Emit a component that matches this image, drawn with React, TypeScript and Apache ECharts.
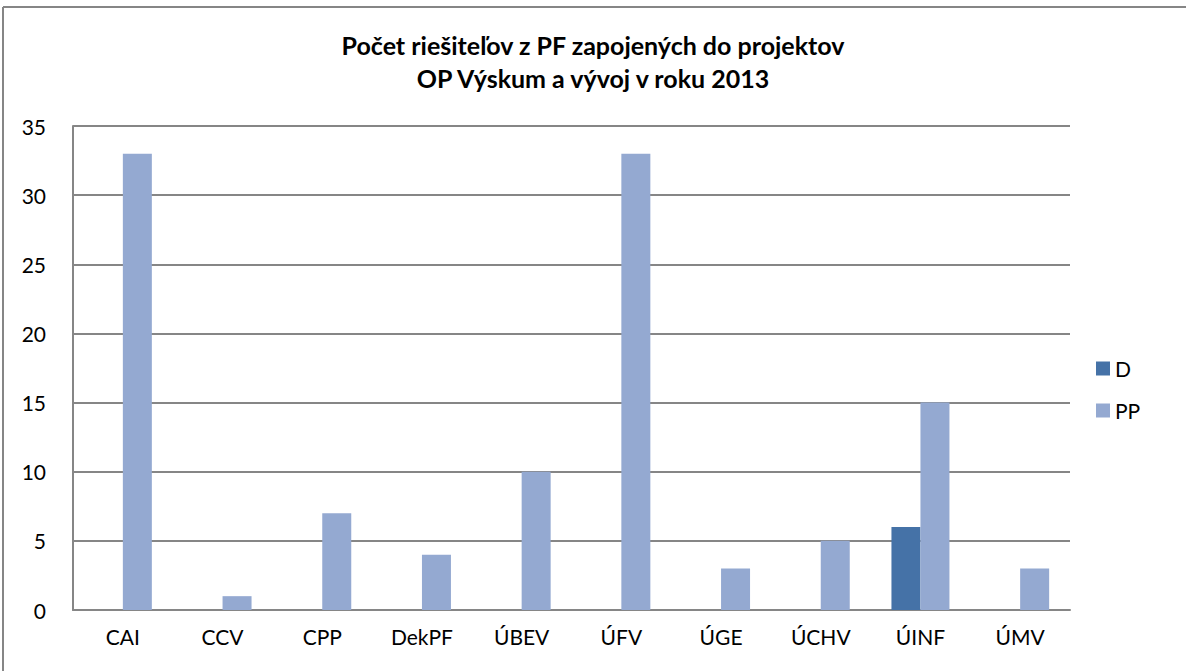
import React, { useEffect, useRef } from "react";
import * as echarts from "echarts";

const categories = ["CAI", "CCV", "CPP", "DekPF", "ÚBEV", "ÚFV", "ÚGE", "ÚCHV", "ÚINF", "ÚMV"];
const seriesD = [0, 0, 0, 0, 0, 0, 0, 0, 6, 0];
const seriesPP = [33, 1, 7, 4, 10, 33, 3, 5, 15, 3];
const yTicks = { min: 0, max: 35, interval: 5 };
const titleText = "Počet riešiteľov z PF zapojených do projektov\nOP Výskum a vývoj v roku 2013";

const FONT = "Lato, 'Open Sans', sans-serif";

export default function App() {
  const ref = useRef<HTMLDivElement>(null);
  useEffect(() => {
    document.body.style.margin = "0";
    const chart = echarts.init(ref.current!, null, { renderer: "svg" });
    chart.setOption({
      animation: false,
      backgroundColor: "#ffffff",
      title: {
        text: titleText,
        left: "center",
        top: 23,
        textStyle: { fontFamily: FONT, fontWeight: "bold", fontSize: 25, color: "#000", lineHeight: 33 },
      },
      legend: {
        orient: "vertical",
        left: 1091,
        top: 353,
        itemWidth: 14,
        itemHeight: 14,
        itemGap: 21,
        icon: "rect",
        textStyle: { fontFamily: FONT, fontSize: 21, color: "#000", padding: [0, 0, 0, 0] },
        data: ["D", "PP"],
      },
      grid: { left: 73, right: 116, top: 126, bottom: 61, containLabel: false },
      xAxis: {
        type: "category",
        data: categories,
        axisLine: { show: true, lineStyle: { color: "#868686", width: 2 } },
        axisTick: { show: false },
        axisLabel: { fontFamily: FONT, fontSize: 21, color: "#000", margin: 16 },
      },
      yAxis: {
        type: "value",
        min: yTicks.min,
        max: yTicks.max,
        interval: yTicks.interval,
        axisLine: { show: true, lineStyle: { color: "#868686", width: 2 } },
        axisTick: { show: false },
        axisLabel: { fontFamily: FONT, fontSize: 21, color: "#000", margin: 27 },
        splitLine: { show: true, lineStyle: { color: "#868686", width: 2 } },
      },
      series: [
        {
          name: "D",
          type: "bar",
          data: seriesD,
          barWidth: 29,
          barGap: "0%",
          itemStyle: { color: "#4572A7" },
        },
        {
          name: "PP",
          type: "bar",
          data: seriesPP,
          barWidth: 29,
          barGap: "0%",
          itemStyle: { color: "#94A9D1" },
        },
      ],
      graphic: [
        { type: "line", shape: { x1: 3, y1: 7, x2: 1186, y2: 7 }, style: { stroke: "#868686", lineWidth: 2 } },
        { type: "line", shape: { x1: 3, y1: 7, x2: 3, y2: 671 }, style: { stroke: "#868686", lineWidth: 2 } },
      ],
    });
    return () => chart.dispose();
  }, []);
  return <div ref={ref} style={{ width: 1186, height: 671 }} />;
}
